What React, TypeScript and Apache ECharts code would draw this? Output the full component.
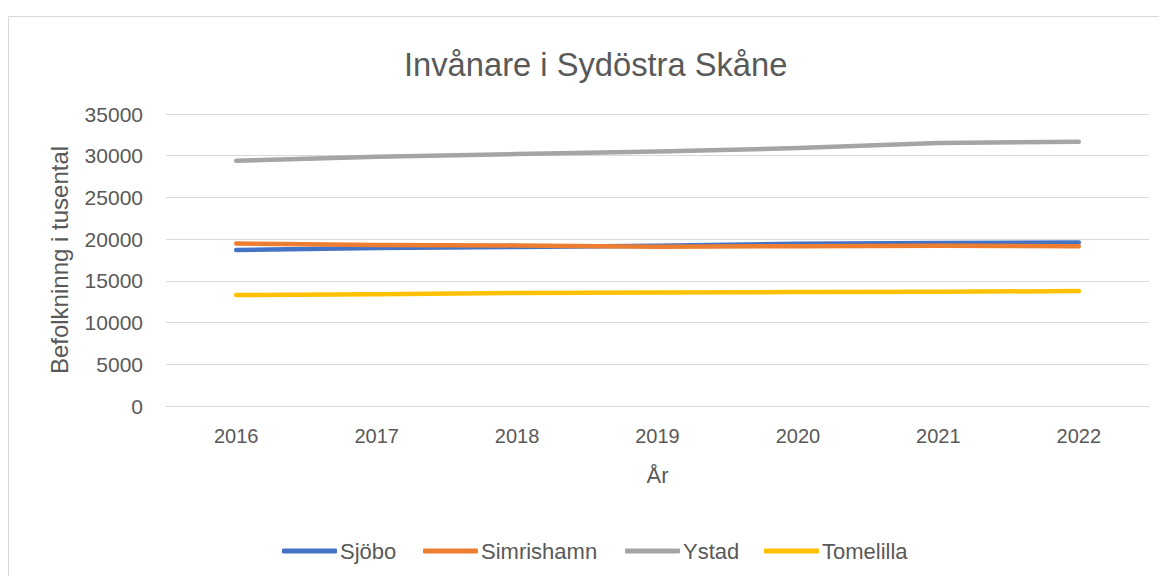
import React, { useEffect, useRef } from "react";
import * as echarts from "echarts";

const years = ["2016", "2017", "2018", "2019", "2020", "2021", "2022"];
const sjobo = [18700, 18950, 19050, 19200, 19450, 19550, 19600];
const simrishamn = [19480, 19300, 19250, 19100, 19150, 19200, 19150];
const ystad = [29400, 29880, 30200, 30500, 30920, 31520, 31680];
const tomelilla = [13300, 13400, 13550, 13600, 13650, 13700, 13770];

const seriesNames = ["Sjöbo", "Simrishamn", "Ystad", "Tomelilla"];
const seriesColors = ["#4472C4", "#ED7D31", "#A5A5A5", "#FFC000"];
const seriesData = [sjobo, simrishamn, ystad, tomelilla];
const legendLefts = [269, 410, 612, 751];

const FONT = "'Liberation Sans', Arial, sans-serif";
const TXT = "#595959";

export default function App() {
  const ref = useRef<HTMLDivElement>(null);
  useEffect(() => {
    if (!ref.current) return;
    const chart = echarts.init(ref.current, undefined, { renderer: "svg" });
    chart.setOption({
      animation: false,
      backgroundColor: "#ffffff",
      textStyle: { fontFamily: FONT, color: TXT },
      title: {
        text: "Invånare i Sydöstra Skåne",
        left: 391,
        top: 35,
        textStyle: { fontFamily: FONT, fontSize: 32.7, fontWeight: "normal", color: TXT },
      },
      graphic: [
        {
          type: "rect",
          shape: { x: 0.5, y: 8.5, width: 1300, height: 700 },
          style: { fill: "none", stroke: "#d9d9d9", lineWidth: 1 },
          silent: true,
          z: -10,
        },
      ],
      legend: seriesNames.map((n, i) => ({
        data: [{ name: n, icon: "roundRect" }],
        left: legendLefts[i],
        top: 527,
        itemWidth: 55,
        itemHeight: 5,
        itemGap: 0,
        selectedMode: false,
        textStyle: { fontFamily: FONT, fontSize: 22, color: TXT, padding: [0, 0, 0, -2] },
      })),
      grid: { left: 158, right: 18, top: 106, bottom: 170, containLabel: false },
      xAxis: {
        type: "category",
        data: years,
        boundaryGap: true,
        name: "År",
        nameLocation: "middle",
        nameGap: 58,
        nameTextStyle: { fontFamily: FONT, fontSize: 22, color: TXT },
        axisLine: { show: true, lineStyle: { color: "#d9d9d9", width: 1 } },
        axisTick: { show: false },
        axisLabel: { fontFamily: FONT, fontSize: 20, color: TXT, margin: 20 },
        splitLine: { show: false },
      },
      yAxis: {
        type: "value",
        min: 0,
        max: 35000,
        interval: 5000,
        name: "Befolkninng i tusental",
        nameLocation: "middle",
        nameGap: 95,
        nameTextStyle: { fontFamily: FONT, fontSize: 24, color: TXT },
        axisLine: { show: false },
        axisTick: { show: false },
        axisLabel: {
          fontFamily: FONT,
          fontSize: 21,
          color: TXT,
          margin: 23,
          formatter: (v: number) => String(v),
        },
        splitLine: { show: true, lineStyle: { color: "#d9d9d9", width: 1 } },
      },
      series: seriesNames.map((n, i) => ({
        name: n,
        type: "line",
        data: seriesData[i],
        symbol: "none",
        showSymbol: false,
        color: seriesColors[i],
        lineStyle: { width: 4.5, color: seriesColors[i], cap: "round", join: "round" },
        z: i === 1 ? 3 : 2,
      })),
    });
    return () => chart.dispose();
  }, []);
  return <div ref={ref} style={{ width: 1159, height: 568 }} />;
}
